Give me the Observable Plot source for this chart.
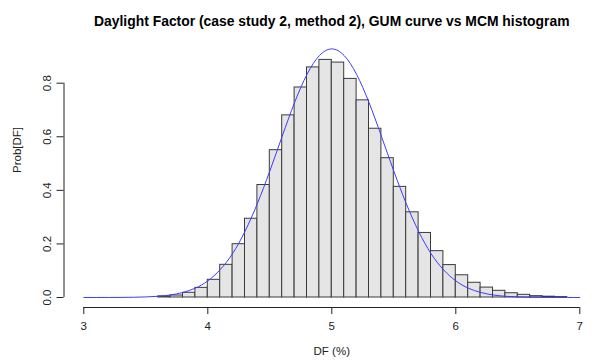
<!DOCTYPE html>
<html>
<head>
<meta charset="utf-8">
<script src="https://cdn.jsdelivr.net/npm/d3@7"></script>
<script src="https://cdn.jsdelivr.net/npm/@observablehq/plot@0.6"></script>
<style>
  html, body { margin: 0; padding: 0; background: #fff; overflow: hidden; }
  #chart svg { display: block; }
</style>
</head>
<body>
<div id="chart"></div>
<script>
// ---- data ----
const titleText = "Daylight Factor (case study 2, method 2), GUM curve vs MCM histogram";
const xLabel = "DF (%)";
const yLabel = "Prob[DF]";
const xTicks = [3, 4, 5, 6, 7];
const xTickLabels = ["3", "4", "5", "6", "7"];
const yTicks = [0, 0.2, 0.4, 0.6, 0.8];
const yTickLabels = ["0.0", "0.2", "0.4", "0.6", "0.8"];

// MCM histogram: lower bin edges (width 0.1) and densities
const binWidth = 0.1;
const binStart = [3.5, 3.6, 3.7, 3.8, 3.9, 4.0, 4.1, 4.2, 4.3, 4.4, 4.5, 4.6, 4.7, 4.8, 4.9,
                  5.0, 5.1, 5.2, 5.3, 5.4, 5.5, 5.6, 5.7, 5.8, 5.9, 6.0, 6.1, 6.2, 6.3, 6.4,
                  6.5, 6.6, 6.7, 6.8, 6.9, 7.0, 7.1];
const binDensity = [0, 0.004, 0.0075, 0.0175, 0.036, 0.066, 0.122, 0.199, 0.294, 0.42, 0.55, 0.68, 0.784, 0.859, 0.887,
                    0.877, 0.816, 0.736, 0.63, 0.52, 0.413, 0.318, 0.241, 0.173, 0.121, 0.083, 0.055, 0.037, 0.025, 0.016,
                    0.01, 0.005, 0.003, 0.0015, 0, 0, 0];

// GUM curve points
const curveX = [3.0, 3.1, 3.2, 3.3, 3.4, 3.5, 3.6, 3.7, 3.8, 3.9, 4.0, 4.1, 4.2, 4.3, 4.4, 4.5, 4.6, 4.7, 4.8, 4.9,
                5.0, 5.1, 5.2, 5.3, 5.4, 5.5, 5.6, 5.7, 5.8, 5.9, 6.0, 6.1, 6.2, 6.3, 6.4, 6.5, 6.6, 6.7, 6.8, 6.9, 7.0];
const curveY = [0.00002, 0.00006, 0.00016, 0.0004, 0.0009, 0.0021, 0.0046, 0.0096, 0.019, 0.035, 0.062, 0.104, 0.164, 0.247, 0.351, 0.472, 0.602, 0.728, 0.833, 0.903,
                0.928, 0.903, 0.833, 0.728, 0.602, 0.472, 0.351, 0.247, 0.164, 0.104, 0.062, 0.035, 0.019, 0.0096, 0.0046, 0.0021, 0.0009, 0.0004, 0.00016, 0.00006, 0.00002];

// ---- build tables ----
const bins = binStart.map((x, i) => ({x1: x, x2: x + binWidth, y: binDensity[i]}));
const curve = curveX.map((x, i) => ({x, y: curveY[i]}));

const font = "'Liberation Sans', Arial, sans-serif";
const ink = "#222";

const chart = Plot.plot({
  width: 595,
  height: 363,
  marginLeft: 63.5,
  marginRight: 0,
  marginTop: 38,
  marginBottom: 56,
  style: {fontFamily: font, fontSize: "11.5px", color: ink, background: "#fff"},
  x: {domain: [3, 7], range: [83.3, 579.3]},
  y: {domain: [0, 0.8], range: [297, 82.7]},
  marks: [
    Plot.rectY(bins, {x1: "x1", x2: "x2", y: "y", fill: "#e5e5e5", stroke: "#3a3a3a", strokeWidth: 1}),
    Plot.line(curve, {x: "x", y: "y", stroke: "#3c3cff", strokeWidth: 1, curve: "natural"}),
    // axis lines (R style, spanning first to last tick)
    Plot.ruleY([yTicks[0]], {x1: xTicks[0], x2: xTicks[xTicks.length - 1], dy: 10, stroke: ink, strokeWidth: 1}),
    Plot.ruleX([xTicks[0]], {y1: yTicks[0], y2: yTicks[yTicks.length - 1], dx: -19.8, stroke: ink, strokeWidth: 1}),
    Plot.axisX({ticks: xTicks, tickFormat: (d, i) => xTickLabels[i], tickSize: 7, tickPadding: 7, label: null,
                stroke: ink, fill: ink, fontSize: 11.5}),
    Plot.axisY({ticks: yTicks, tickFormat: (d, i) => yTickLabels[i], tickSize: 7, tickPadding: 6, tickRotate: -90,
                label: null, stroke: ink, fill: ink, fontSize: 11.5}),
    Plot.text([titleText], {frameAnchor: "top", dy: -22, dx: 2, fontWeight: "bold", fontSize: 13.9, fill: "#000"}),
    Plot.text([xLabel], {frameAnchor: "bottom", dy: 47, dx: 2, fontSize: 11.5, fill: ink}),
    Plot.text([yLabel], {frameAnchor: "left", dx: -47, rotate: -90, fontSize: 11.5, fill: ink})
  ]
});
document.getElementById("chart").appendChild(chart);
</script>
</body>
</html>
